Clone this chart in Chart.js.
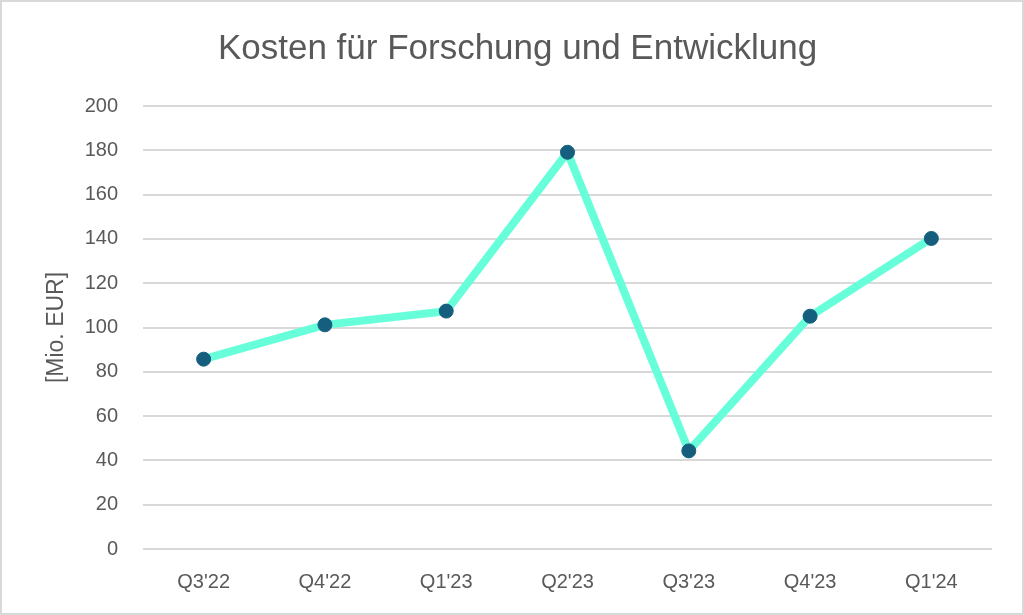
<!DOCTYPE html>
<html>
<head>
<meta charset="utf-8">
<script src="https://cdn.jsdelivr.net/npm/chart.js@4"></script>
<style>
  html, body { margin: 0; padding: 0; background: #fff; }
  #wrap { width: 1020px; height: 611px; border: 2px solid #d9d9d9; }
</style>
</head>
<body>
<div id="wrap"><canvas id="costChart" width="1020" height="611"></canvas></div>
<script>
const quarters = ["Q3'22", "Q4'22", "Q1'23", "Q2'23", "Q3'23", "Q4'23", "Q1'24"];
const costs = [85.7, 101.2, 107.4, 179.1, 44.3, 105.1, 140.2];

const fontFamily = "'Liberation Sans', Arial, sans-serif";
const grey = "#595959";

const ctx = document.getElementById("costChart").getContext("2d");

new Chart(ctx, {
  type: "line",
  data: {
    labels: quarters,
    datasets: [{
      label: "Kosten",
      data: costs,
      borderColor: "#66FFDA",
      borderWidth: 8,
      pointBackgroundColor: "#155E7E",
      pointBorderColor: "#155E7E",
      pointRadius: 7,
      pointBorderWidth: 1,
      tension: 0
    }]
  },
  options: {
    responsive: false,
    animation: false,
    layout: { padding: { left: 41, right: 30, top: 10, bottom: 6 } },
    plugins: {
      legend: { display: false },
      tooltip: { enabled: false },
      title: {
        display: true,
        text: "Kosten für Forschung und Entwicklung",
        color: grey,
        font: { family: fontFamily, size: 35, weight: "normal" },
        padding: { top: 16, bottom: 36 }
      }
    },
    scales: {
      x: {
        offset: true,
        grid: { display: false },
        border: { display: false },
        ticks: {
          color: grey,
          font: { family: fontFamily, size: 20 },
          padding: 13
        }
      },
      y: {
        min: 0,
        max: 200,
        afterFit: (scale) => { scale.width = 100; },
        ticks: {
          stepSize: 20,
          color: grey,
          font: { family: fontFamily, size: 20 },
          padding: 25
        },
        grid: { color: "#d9d9d9", lineWidth: 2, drawTicks: false },
        border: { display: false },
        title: {
          display: true,
          text: "[Mio. EUR]",
          color: grey,
          font: { family: fontFamily, size: 23 },
          padding: { top: 0, bottom: 0 }
        }
      }
    }
  }
});
</script>
</body>
</html>
